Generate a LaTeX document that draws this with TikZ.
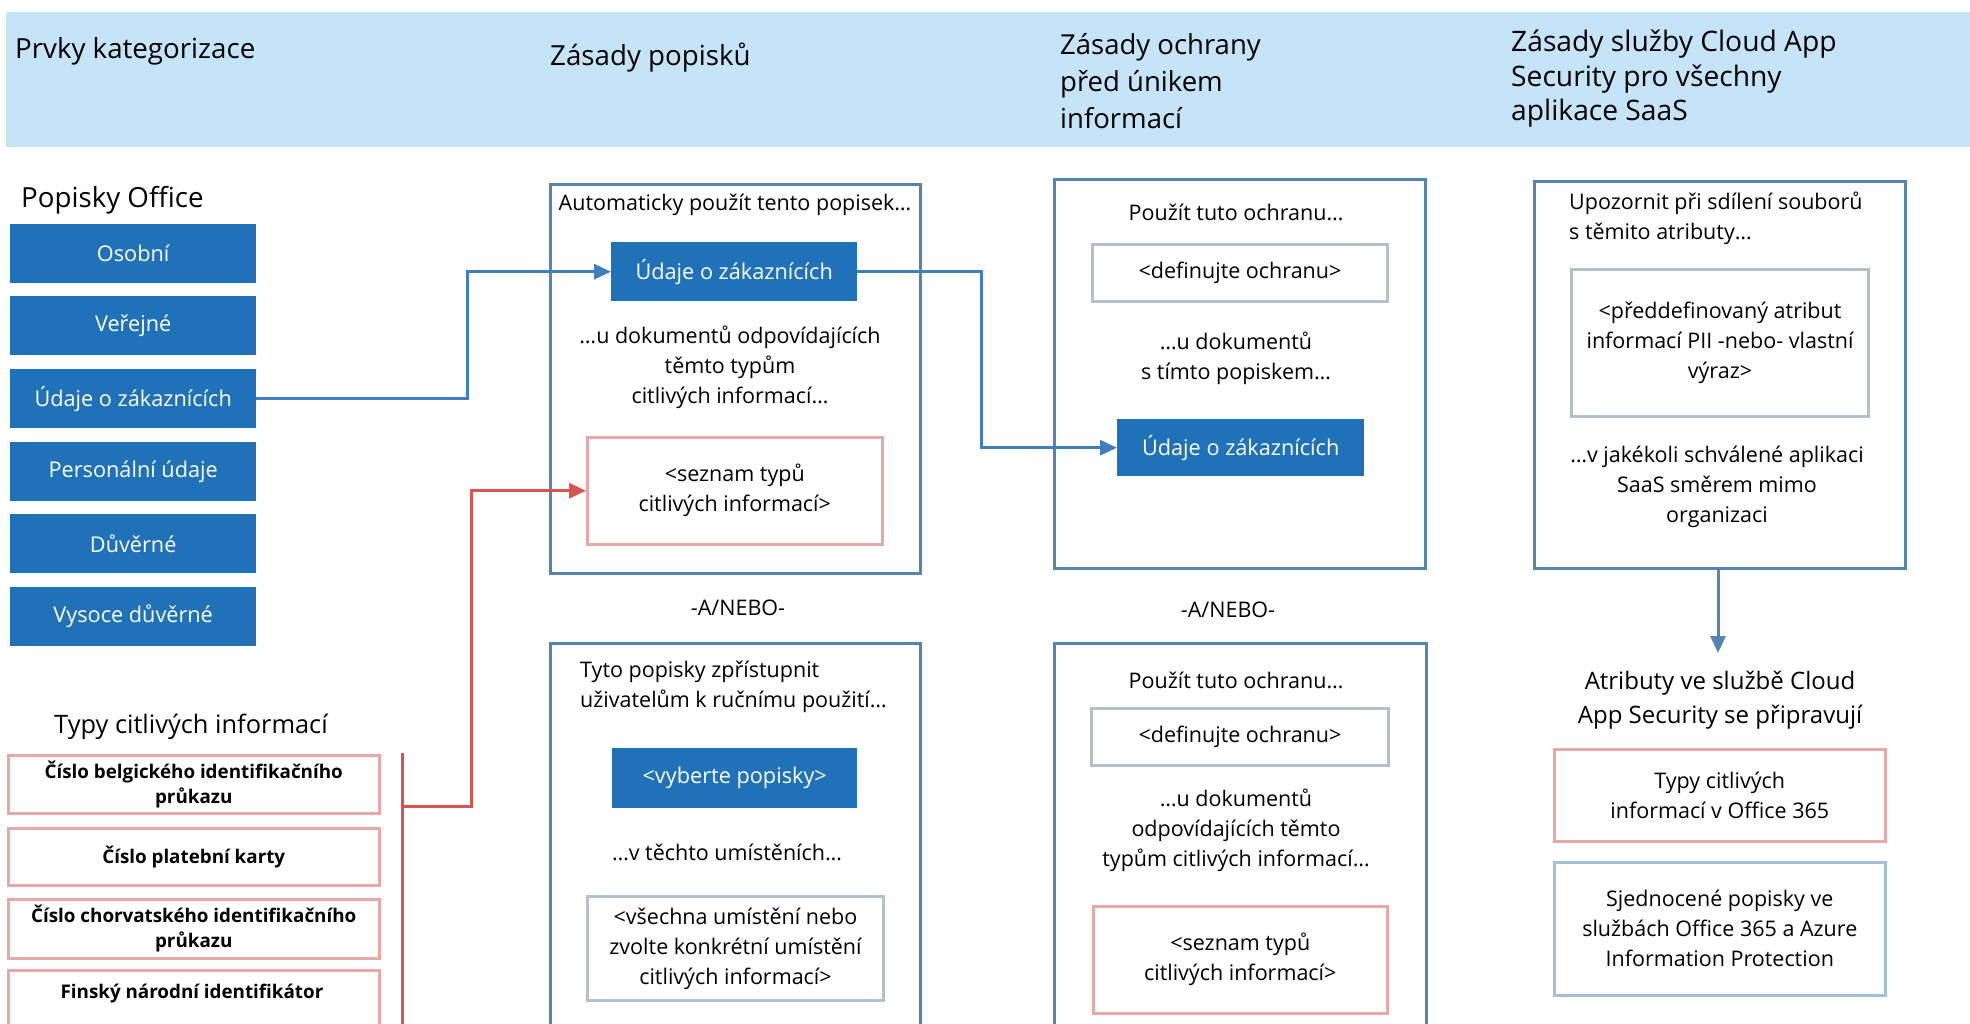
\documentclass[tikz,border=0pt]{standalone}
\usepackage{fontspec}
\setmainfont{Open Sans}
\usetikzlibrary{arrows.meta}
\definecolor{band}{HTML}{C6E4F7}
\definecolor{dblue}{HTML}{1F71B8}
\definecolor{frameblue}{HTML}{5285B4}
\definecolor{graybd}{HTML}{B4C0CC}
\definecolor{pinkbd}{HTML}{E8A9A6}
\definecolor{lightbd}{HTML}{A3C0D8}
\definecolor{redln}{HTML}{D9534F}
\definecolor{conblue}{HTML}{3F7FBF}
\tikzset{
  body/.style={inner sep=0pt, align=center, font=\fontsize{21.5}{30}\selectfont},
  hdr/.style={inner sep=0pt, align=left, anchor=west},
  fillbox/.style={fill=dblue, text=white, inner sep=0pt, align=center, font=\fontsize{21.7}{30}\selectfont},
  frame/.style={draw=frameblue, line width=3pt, fill=white},
  graybox/.style={draw=graybd, line width=3pt, fill=white},
  pinkbox/.style={draw=pinkbd, line width=2.5pt, fill=white},
  lightbox/.style={draw=lightbd, line width=2.5pt, fill=white},
  bluecon/.style={draw=conblue, line width=3pt, -{Triangle[length=17pt,width=15pt]}},
  redcon/.style={draw=redln, line width=3pt, -{Triangle[length=17pt,width=15pt]}},
  bluedown/.style={draw=frameblue, line width=3pt, -{Triangle[length=17pt,width=15pt]}},
  boldtxt/.style={inner sep=0pt, align=center, font=\fontsize{18.8}{25}\selectfont\bfseries}
}
\begin{document}
\begin{tikzpicture}[x=1pt,y=-1pt]
\useasboundingbox (0,0) rectangle (1970,1023);
\clip (0,0) rectangle (1970,1023);
\fill[white] (0,0) rectangle (1970,1023);
% header band
\fill[band] (6,12) rectangle (1970,147);
\node[hdr, font=\fontsize{27.7}{37}\selectfont] (h1) at (15,51) {Prvky kategorizace};
\node[hdr, font=\fontsize{27.7}{37}\selectfont] (h2) at (550,58) {Zásady popisků};
\node[hdr, font=\fontsize{27.5}{37}\selectfont] (h3) at (1060,81) {Zásady ochrany\\před únikem\\informací};
\node[hdr, font=\fontsize{28.2}{34.5}\selectfont] (h4) at (1511,79) {Zásady služby Cloud App\\Security pro všechny\\aplikace SaaS};

% left column
\node[hdr, font=\fontsize{27.7}{30}\selectfont] (popoff) at (21,200) {Popisky Office};
\node[fillbox, minimum width=246, minimum height=59, anchor=north west] (osobni) at (10,224) {Osobní};
\node[fillbox, minimum width=246, minimum height=59, anchor=north west] (verejne) at (10,296) {Veřejné};
\node[fillbox, minimum width=246, minimum height=59, anchor=north west] (udaje) at (10,369) {Údaje o zákaznících};
\node[fillbox, minimum width=246, minimum height=59, anchor=north west] (personal) at (10,442) {Personální údaje};
\node[fillbox, minimum width=246, minimum height=59, anchor=north west] (duverne) at (10,514) {Důvěrné};
\node[fillbox, minimum width=246, minimum height=59, anchor=north west] (vysoce) at (10,587) {Vysoce důvěrné};

\node[body, font=\fontsize{25.4}{30}\selectfont] (typytitle) at (191,727) {Typy citlivých informací};
\node[pinkbox, boldtxt, minimum width=371, minimum height=58, anchor=north west] (t1) at (7,754) {Číslo belgického identifikačního\\průkazu};
\node[pinkbox, boldtxt, minimum width=371, minimum height=57, anchor=north west] (t2) at (7,827) {Číslo platební karty};
\node[pinkbox, boldtxt, minimum width=371, minimum height=59, anchor=north west] (t3) at (7,898) {Číslo chorvatského identifikačního\\průkazu};
\node[pinkbox, minimum width=371, minimum height=80, anchor=north west] (t4) at (7,969) {};
\node[boldtxt] (t4txt) at (192,994) {Finský národní identifikátor};

% column 2 upper
\node[frame, minimum width=370, minimum height=389, anchor=north west] (c2up) at (549,183) {};
\node[body] (c2a) at (735,205) {Automaticky použít tento popisek…};
\node[fillbox, minimum width=246, minimum height=59, anchor=north west] (c2blue) at (611,242) {Údaje o zákaznících};
\node[body] (c2b) at (730,367) {…u dokumentů odpovídajících\\těmto typům\\citlivých informací…};
\node[pinkbox, body, minimum width=295, minimum height=107, anchor=north west] (c2seznam) at (586,436) {<seznam typů\\citlivých informací>};

\node[body] (or1) at (738,608) {-A/NEBO-};

% column 2 lower
\node[frame, minimum width=370, minimum height=420, anchor=north west] (c2low) at (549,642) {};
\node[body, align=left, anchor=west] (c2c) at (580,687) {Tyto popisky zpřístupnit\\uživatelům k ručnímu použití…};
\node[fillbox, minimum width=245, minimum height=60, anchor=north west] (c2vyb) at (612,748) {<vyberte popisky>};
\node[body] (c2d) at (727,852) {…v těchto umístěních…};
\node[graybox, body, minimum width=296, minimum height=104, anchor=north west] (c2vse) at (586,895) {<všechna umístění nebo\\zvolte konkrétní umístění\\citlivých informací>};

% column 3 upper
\node[frame, minimum width=371, minimum height=389, anchor=north west] (c3up) at (1053,178) {};
\node[body] (c3a) at (1236,212) {Použít tuto ochranu…};
\node[graybox, body, minimum width=295, minimum height=57, anchor=north west] (c3def) at (1091,243) {<definujte ochranu>};
\node[body] (c3b) at (1236,358) {…u dokumentů\\s tímto popiskem…};
\node[fillbox, minimum width=247, minimum height=57, anchor=north west] (c3blue) at (1117,419) {Údaje o zákaznících};

\node[body] (or2) at (1228,610) {-A/NEBO-};

% column 3 lower
\node[frame, minimum width=372, minimum height=420, anchor=north west] (c3low) at (1053,642) {};
\node[body] (c3c) at (1236,680) {Použít tuto ochranu…};
\node[graybox, body, minimum width=297, minimum height=57, anchor=north west] (c3def2) at (1090,707) {<definujte ochranu>};
\node[body] (c3d) at (1236,830) {…u dokumentů\\odpovídajících těmto\\typům citlivých informací…};
\node[pinkbox, body, minimum width=294, minimum height=107, anchor=north west] (c3seznam) at (1092,905) {<seznam typů\\citlivých informací>};

% column 4
\node[frame, minimum width=371, minimum height=387, anchor=north west] (c4box) at (1533,180) {};
\node[body, align=left, anchor=west] (c4a) at (1569,218) {Upozornit při sdílení souborů\\s těmito atributy…};
\node[graybox, body, minimum width=297, minimum height=147, anchor=north west] (c4attr) at (1570,268) {<předdefinovaný atribut\\informací PII -nebo- vlastní\\výraz>};
\node[body] (c4b) at (1717,487) {…v jakékoli schválené aplikaci\\SaaS směrem mimo\\organizaci};
\node[body, font=\fontsize{24}{34}\selectfont] (c4title) at (1720,700) {Atributy ve službě Cloud\\App Security se připravují};
\coordinate (c4tip) at (1718,653);
\node[pinkbox, body, minimum width=331, minimum height=92, anchor=north west] (c4typy) at (1553,748) {Typy citlivých\\informací v Office 365};
\node[lightbox, body, minimum width=331, minimum height=133, anchor=north west] (c4sjed) at (1553,861) {Sjednocené popisky ve\\službách Office 365 a Azure\\Information Protection};

% connectors
\coordinate (k1) at (467,0);
\coordinate (k2) at (981,0);
\coordinate (k3) at (471,0);
\coordinate (rtop) at (402,753);
\coordinate (rbot) at (402,1040);
\coordinate (rbr) at (402,806);
\draw[bluecon] (udaje.east) -| (k1 |- c2blue.west) -- (c2blue.west);
\draw[bluecon] (c2blue.east) -| (k2 |- c3blue.west) -- (c3blue.west);
\draw[draw=redln, line width=3pt] (rtop) -- (rbot);
\draw[redcon] (rbr) -| (k3 |- c2seznam.west) -- (c2seznam.west);
\draw[bluedown] (c4box.south -| c4tip) -- (c4tip);
\end{tikzpicture}
\end{document}
